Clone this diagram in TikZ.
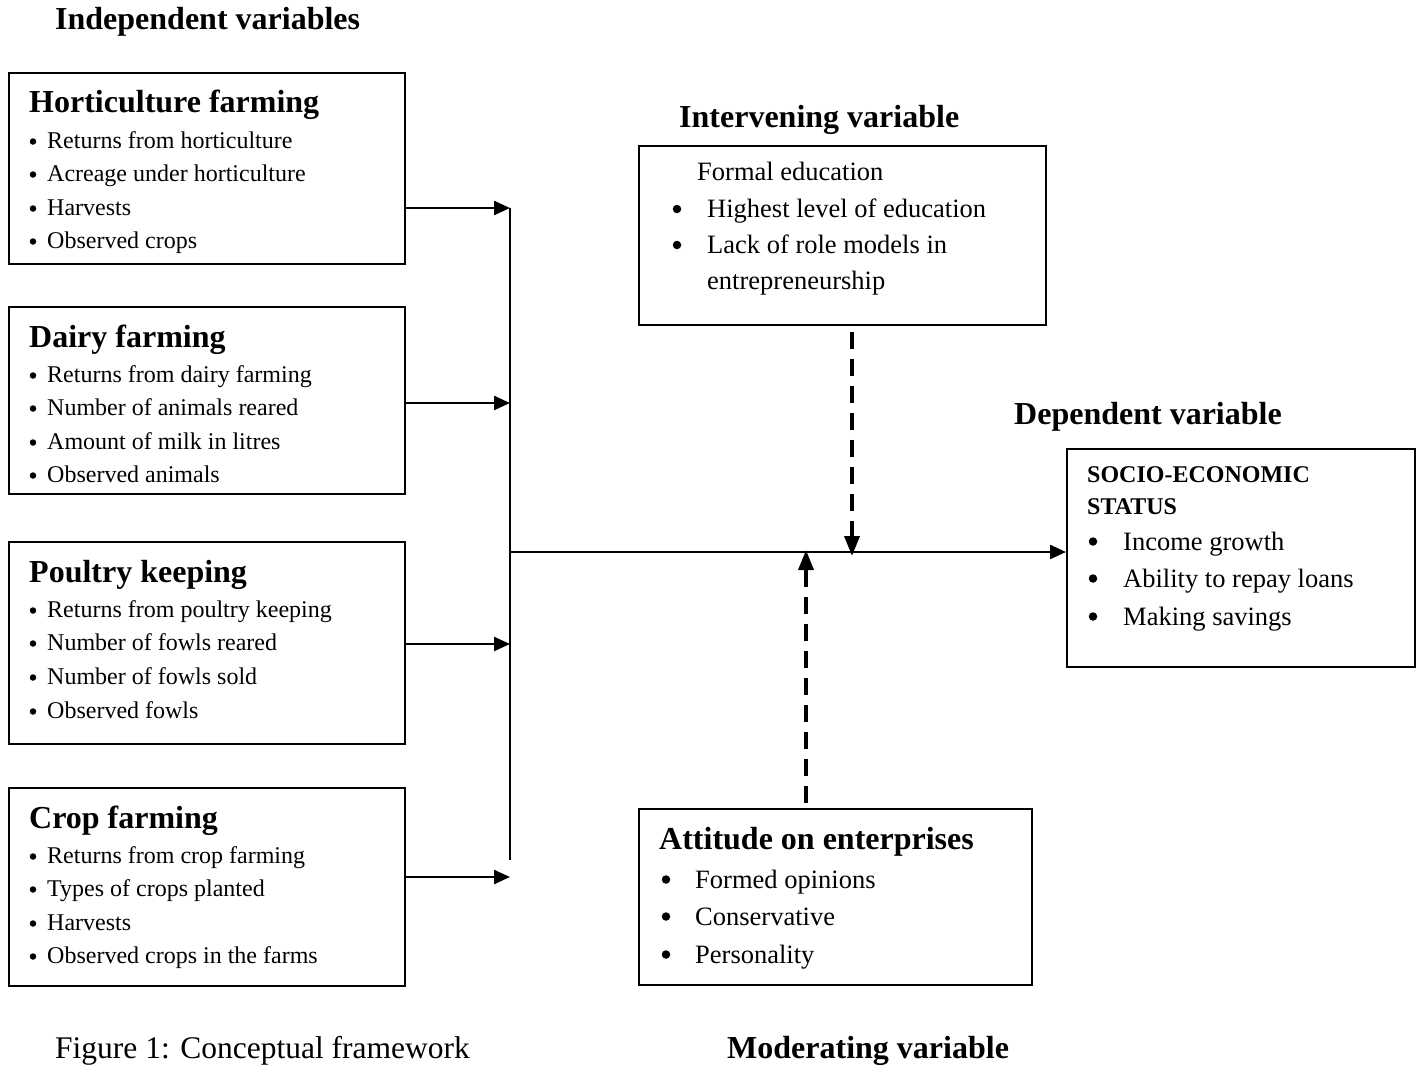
\documentclass[tikz,border=0pt]{standalone}
\usepackage{fontspec}
\setmainfont{Liberation Serif}
\usetikzlibrary{arrows.meta}
\newcommand{\fsz}[1]{\fontsize{#1}{#1}\selectfont}
\tikzset{
  box/.style={draw, line width=1.8pt, inner sep=0pt, anchor=north west},
  txt/.style={anchor=base west, inner sep=0pt},
  ttl/.style={txt, font=\fsz{32}\bfseries},
  lhead/.style={txt, font=\fsz{32}\bfseries},
  litem/.style={txt, font=\fsz{24}},
  ritem/.style={txt, font=\fsz{26.5}},
  lbul/.style={circle, fill, inner sep=0pt, minimum size=6.5pt},
  rbul/.style={circle, fill, inner sep=0pt, minimum size=8.5pt},
  conn/.style={line width=2.4pt, -{Triangle[length=16pt,width=14pt]}},
  plain/.style={line width=2.4pt},
  dashline/.style={line width=3.6pt, dash pattern=on 17pt off 10pt, -{Triangle[length=20pt,width=15pt]}}
}
\begin{document}
\begin{tikzpicture}[x=1pt,y=-1pt]
\useasboundingbox (0,0) rectangle (1420,1065);

% titles
\node[ttl] (t1) at (55,30) {Independent variables};
\node[ttl] (t2) at (679,127) {Intervening variable};
\node[ttl] (t3) at (1014,424) {Dependent variable};
\node[txt, font=\fsz{31.5}] (t4) at (55,1058) {Figure 1: Conceptual framework};
\node[ttl] (t5) at (727,1058) {Moderating variable};

% boxes
\node[box, minimum width=396pt, minimum height=191pt] (hort) at (8,72) {};
\node[box, minimum width=396pt, minimum height=187pt] (dairy) at (8,306) {};
\node[box, minimum width=396pt, minimum height=202pt] (poul) at (8,541) {};
\node[box, minimum width=396pt, minimum height=198pt] (crop) at (8,787) {};
\node[box, minimum width=407pt, minimum height=179pt] (inter) at (638,145) {};
\node[box, minimum width=348pt, minimum height=218pt] (dep) at (1066,448) {};
\node[box, minimum width=393pt, minimum height=176pt] (mod) at (638,808) {};

% horticulture
\node[lhead] (h0) at (29,112) {Horticulture farming};
\foreach \y/\t [count=\i] in {148.5/Returns from horticulture,181.5/Acreage under horticulture,215.5/Harvests,248.5/Observed crops}{
  \node[lbul] (hb\i) at (33,\y-7) {};
  \node[litem] (hi\i) at (47,\y) {\t};
}
% dairy
\node[lhead] (d0) at (29,347) {Dairy farming};
\foreach \y/\t [count=\i] in {382.5/Returns from dairy farming,415.5/Number of animals reared,449.5/Amount of milk in litres,482.5/Observed animals}{
  \node[lbul] (db\i) at (33,\y-7) {};
  \node[litem] (di\i) at (47,\y) {\t};
}
% poultry
\node[lhead] (p0) at (29,582) {Poultry keeping};
\foreach \y/\t [count=\i] in {617.5/Returns from poultry keeping,650.5/Number of fowls reared,684.5/Number of fowls sold,718.5/Observed fowls}{
  \node[lbul] (pb\i) at (33,\y-7) {};
  \node[litem] (pi\i) at (47,\y) {\t};
}
% crop
\node[lhead] (c0) at (29,828) {Crop farming};
\foreach \y/\t [count=\i] in {863.5/Returns from crop farming,896.5/Types of crops planted,930.5/Harvests,963.5/Observed crops in the farms}{
  \node[lbul] (cb\i) at (33,\y-7) {};
  \node[litem] (ci\i) at (47,\y) {\t};
}

% intervening
\node[ritem] (i0) at (697,180) {Formal education};
\node[rbul] (ib1) at (677,209) {};
\node[ritem] (ii1) at (707,217) {Highest level of education};
\node[rbul] (ib2) at (677,245) {};
\node[ritem] (ii2) at (707,253) {Lack of role models in};
\node[ritem] (ii3) at (707,289) {entrepreneurship};

% dependent
\node[txt, font=\fsz{24}\bfseries] (s0) at (1087,482) {SOCIO-ECONOMIC};
\node[txt, font=\fsz{24}\bfseries] (s1) at (1087,514) {STATUS};
\foreach \y/\t [count=\i] in {550/Income growth,587/Ability to repay loans,625/Making savings}{
  \node[rbul] (sb\i) at (1093,\y-8.5) {};
  \node[ritem] (si\i) at (1123,\y) {\t};
}

% moderating
\node[lhead] (m0) at (659,849) {Attitude on enterprises};
\foreach \y/\t [count=\i] in {888/Formed opinions,925/Conservative,963/Personality}{
  \node[rbul] (mb\i) at (666,\y-8.5) {};
  \node[ritem] (mi\i) at (695,\y) {\t};
}

% connectors
\coordinate (hs) at (hort.east |- 0,208);
\coordinate (ds) at (dairy.east |- 0,403);
\coordinate (ps) at (poul.east |- 0,644);
\coordinate (cs) at (crop.east |- 0,877);
\coordinate (busT) at (510,208);
\coordinate (busB) at (510,860);
\coordinate (busM) at (510,552);
\coordinate (jn) at (852,552);
\coordinate (jm) at (806,552);

\draw[conn] (hs) -- (hs -| busT);
\draw[conn] (ds) -- (ds -| busT);
\draw[conn] (ps) -- (ps -| busT);
\draw[conn] (cs) -- (cs -| busT);
\draw[plain] (busT) -- (busB);
\draw[conn] (busM) -- (busM -| dep.west);
\draw[dashline] (inter.south -| jn) ++(0,6) -- ([yshift=-4pt]jn);
\draw[dashline] (mod.north -| jm) ++(0,-5) -- ([yshift=2pt]jm);
\end{tikzpicture}
\end{document}
